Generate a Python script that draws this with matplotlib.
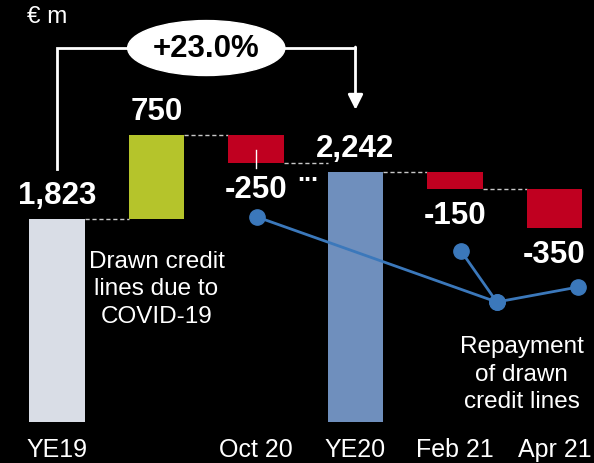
import matplotlib.pyplot as plt
from matplotlib.patches import Ellipse

plt.rcParams['font.family'] = ['Liberation Sans', 'DejaVu Sans']

# waterfall data (EUR m)
categories = ['YE19', '', 'Oct 20', 'YE20', 'Feb 21', 'Apr 21']
start_value = 1823
changes = [750, -250]          # drawn credit lines / first repayment
end_value = 2242
later_changes = [-150, -350]   # repayments after YE20
value_labels = ['1,823', '750', '-250', '2,242', '-150', '-350']

# leader line points for the "Repayment" note (x in category units, y in EUR m)
rep_a_x = [2.01, 4.42, 5.24]
rep_a_y = [1839, 1076, 1211]
rep_b_x = [4.06, 4.42]
rep_b_y = [1534, 1076]

c_grey = '#d9dde6'
c_green = '#b5c42b'
c_red = '#c00020'
c_blue = '#6f8fbd'
c_line = '#3b78bb'

fig = plt.figure(figsize=(5.94, 4.64), dpi=100, facecolor='black')
ax = fig.add_axes([0, 41 / 464, 1, 423 / 464])
ax.set_facecolor('black')
scale = 0.1115  # px per EUR m
ax.set_xlim(-57 / 99.5, (594 - 57) / 99.5)
ax.set_ylim(0, 423 / scale)
for s in ax.spines.values():
    s.set_visible(False)
ax.set_yticks([])
ax.set_xticks(range(len(categories)))
ax.set_xticklabels(categories, color='white', fontsize=18)
ax.tick_params(axis='x', length=0, pad=11)

w = 0.56
# bottoms / heights
top1 = start_value + changes[0]
oct_bottom = top1 + changes[1]
feb_bottom = end_value + later_changes[0]
apr_bottom = feb_bottom + later_changes[1]
bottoms = [0, start_value, oct_bottom, 0, feb_bottom, apr_bottom]
heights = [start_value, changes[0], -changes[1], end_value, -later_changes[0], -later_changes[1]]
colors = [c_grey, c_green, c_red, c_blue, c_red, c_red]
ax.bar(range(6), heights, bottom=bottoms, width=w, color=colors, zorder=2)

# dashed connectors
conn = [(0, start_value), (1, top1), (2, oct_bottom), (3, end_value), (4, feb_bottom)]
for i, y in conn:
    ax.plot([i + w / 2, i + 1 - w / 2], [y, y], color='#c8c8c8', lw=1,
            dashes=(3, 2), zorder=1)

# value labels
tops = [start_value, top1, oct_bottom, end_value, feb_bottom, apr_bottom]
for i, lab in enumerate(value_labels):
    if lab.startswith('-'):
        ax.annotate(lab, (i, tops[i]), xytext=(0, -19), textcoords='offset points',
                    ha='center', va='center', color='white', fontsize=22.5,
                    fontweight='bold')
    else:
        ax.annotate(lab, (i, tops[i]), xytext=(0, 17), textcoords='offset points',
                    ha='center', va='center', color='white', fontsize=22.5,
                    fontweight='bold')

# leader tick inside Oct 20 bar
ax.plot([2, 2], [oct_bottom + 120, oct_bottom - 45], color='white', lw=1, zorder=3)
# break dots
ax.annotate('...', (2.52, oct_bottom), xytext=(0, -12), textcoords='offset points',
            ha='center', va='baseline', color='white', fontsize=18, fontweight='bold')

# growth bracket
y_br = 3354
ax.plot([0, 0, 3], [2269, y_br, y_br], color='white', lw=2, zorder=3,
        solid_joinstyle='miter')
ax.annotate('', xy=(3, 2800), xytext=(3, y_br + 9),
            arrowprops=dict(arrowstyle='-|>,head_length=0.9,head_width=0.45',
                            color='white', lw=2, shrinkA=0, shrinkB=0), zorder=3)
ax.add_patch(Ellipse((1.5, y_br), 1.58, 493, facecolor='white', edgecolor='white',
                     zorder=4))
pct = (end_value / start_value - 1) * 100
ax.text(1.5, y_br, f'+{pct:.1f}%', ha='center', va='center', color='black',
        fontsize=22.5, fontweight='bold', zorder=5)

# repayment leader lines
ax.plot(rep_a_x, rep_a_y, color=c_line, lw=2, marker='o', markersize=11, zorder=3)
ax.plot(rep_b_x, rep_b_y, color=c_line, lw=2, marker='o', markersize=11, zorder=3)

# notes
ax.text(1, 1200, 'Drawn credit\nlines due to\nCOVID-19', ha='center', va='center',
        color='white', fontsize=17.5, linespacing=1.33)
ax.text(4.67, 433, 'Repayment\nof drawn\ncredit lines', ha='center', va='center',
        color='white', fontsize=17.5, linespacing=1.33)
fig.text(27 / 594, 1 - 17 / 464, '€ m', ha='left', va='center', color='white',
         fontsize=17.5)

plt.savefig('out.png', dpi=100, facecolor='black')
